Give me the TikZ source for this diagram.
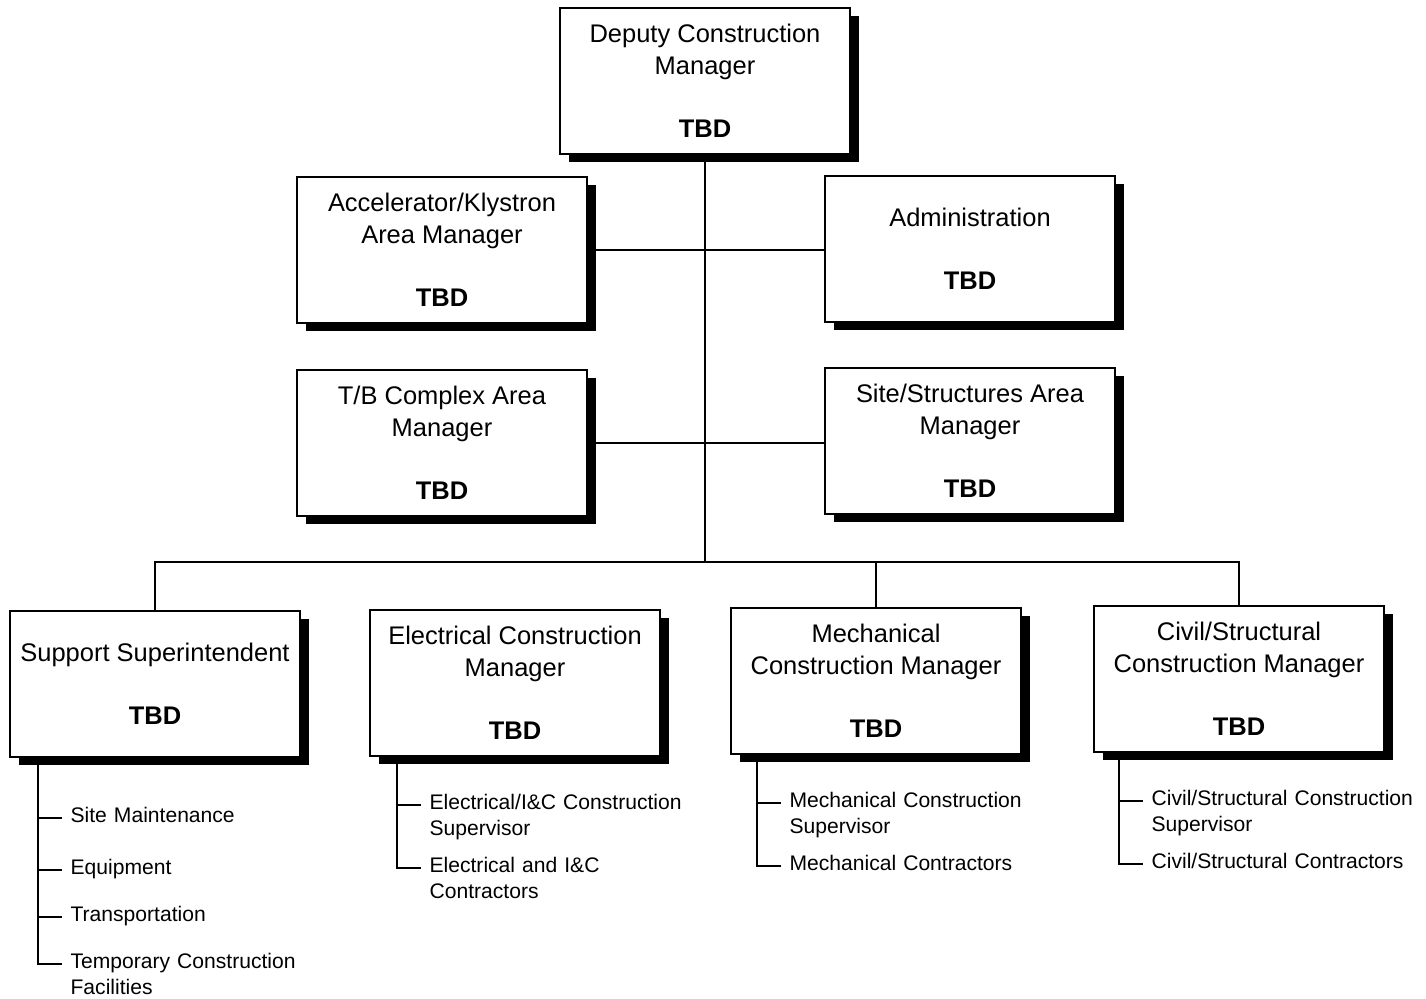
\documentclass[tikz,border=0pt]{standalone}
\usepackage{fontspec}
\setmainfont{Liberation Sans}
\usetikzlibrary{shadows}

\begin{document}
\begin{tikzpicture}[x=0.2mm,y=-0.2mm,
	box/.style={draw,line width=1pt,fill=white,minimum width=58mm,minimum height=29.2mm,inner sep=2pt,align=center,
		font=\fontsize{14.5}{18}\selectfont,
		drop shadow={shadow xshift=1.8mm,shadow yshift=-1.6mm,fill=black,opacity=1}},
	item/.style={anchor=mid west,inner xsep=4.5pt,inner ysep=0pt,text width=70mm,align=left,
		font=\fontsize{12}{14.7}\selectfont},
	every path/.style={line width=0.8pt}]
		\useasboundingbox (0,0) rectangle (1426,999);
		
		%managers
		\node[box] (dep) at (705,81) {Deputy Construction\\Manager\\[18pt]\textbf{TBD}};
		\node[box] (acc) at (442,250) {Accelerator/Klystron\\Area Manager\\[18pt]\textbf{TBD}};
		\node[box] (adm) at (970,249) {Administration\\[18pt]\textbf{TBD}};
		\node[box] (tb) at (442,443) {T/B Complex Area\\Manager\\[18pt]\textbf{TBD}};
		\node[box] (site) at (970,441) {Site/Structures Area\\Manager\\[18pt]\textbf{TBD}};
		\node[box] (sup) at (155,684) {Support Superintendent\\[18pt]\textbf{TBD}};
		\node[box] (ele) at (515,683) {Electrical Construction\\Manager\\[18pt]\textbf{TBD}};
		\node[box] (mec) at (876,681) {Mechanical\\Construction Manager\\[18pt]\textbf{TBD}};
		\node[box] (civ) at (1239,679) {Civil/Structural\\Construction Manager\\[18pt]\textbf{TBD}};
		
		%tree
		\coordinate (bus) at (706,562);
		\draw (dep.south) -- (dep.south |- bus);
		\draw (acc.east) -- (acc.east -| adm.west);
		\draw (tb.east) -- (tb.east -| site.west);
		\draw (sup.north) -- (sup.north |- bus) -- (civ.north |- bus) -- (civ.north);
		\draw (mec.north) -- (mec.north |- bus);
		
		%support
		\node[item] (sup1) at (62,818) {Site Maintenance};
		\node[item] (sup2) at (62,870) {Equipment};
		\node[item] (sup3) at (62,917) {Transportation};
		\node[item] (sup4) at (62,964) {Temporary Construction\\Facilities};
		\coordinate (supT) at (38,757);
		\draw (supT) |- (sup4.mid west);
		\foreach \i in {1,2,3}
			\draw (sup\i.mid west -| supT) -- (sup\i.mid west);
		
		%electrical
		\node[item] (ele1) at (421,805) {Electrical/I\&C Construction\\Supervisor};
		\node[item] (ele2) at (421,868) {Electrical and I\&C\\Contractors};
		\coordinate (eleT) at (397,756);
		\draw (eleT) |- (ele2.mid west);
		\draw (ele1.mid west -| eleT) -- (ele1.mid west);
		
		%mechanical
		\node[item] (mec1) at (781,803) {Mechanical Construction\\Supervisor};
		\node[item] (mec2) at (781,866) {Mechanical Contractors};
		\coordinate (mecT) at (757,754);
		\draw (mecT) |- (mec2.mid west);
		\draw (mec1.mid west -| mecT) -- (mec1.mid west);
		
		%civil
		\node[item] (civ1) at (1143,801) {Civil/Structural Construction\\Supervisor};
		\node[item] (civ2) at (1143,864) {Civil/Structural Contractors};
		\coordinate (civT) at (1119,752);
		\draw (civT) |- (civ2.mid west);
		\draw (civ1.mid west -| civT) -- (civ1.mid west);
		
\end{tikzpicture}
\end{document}
